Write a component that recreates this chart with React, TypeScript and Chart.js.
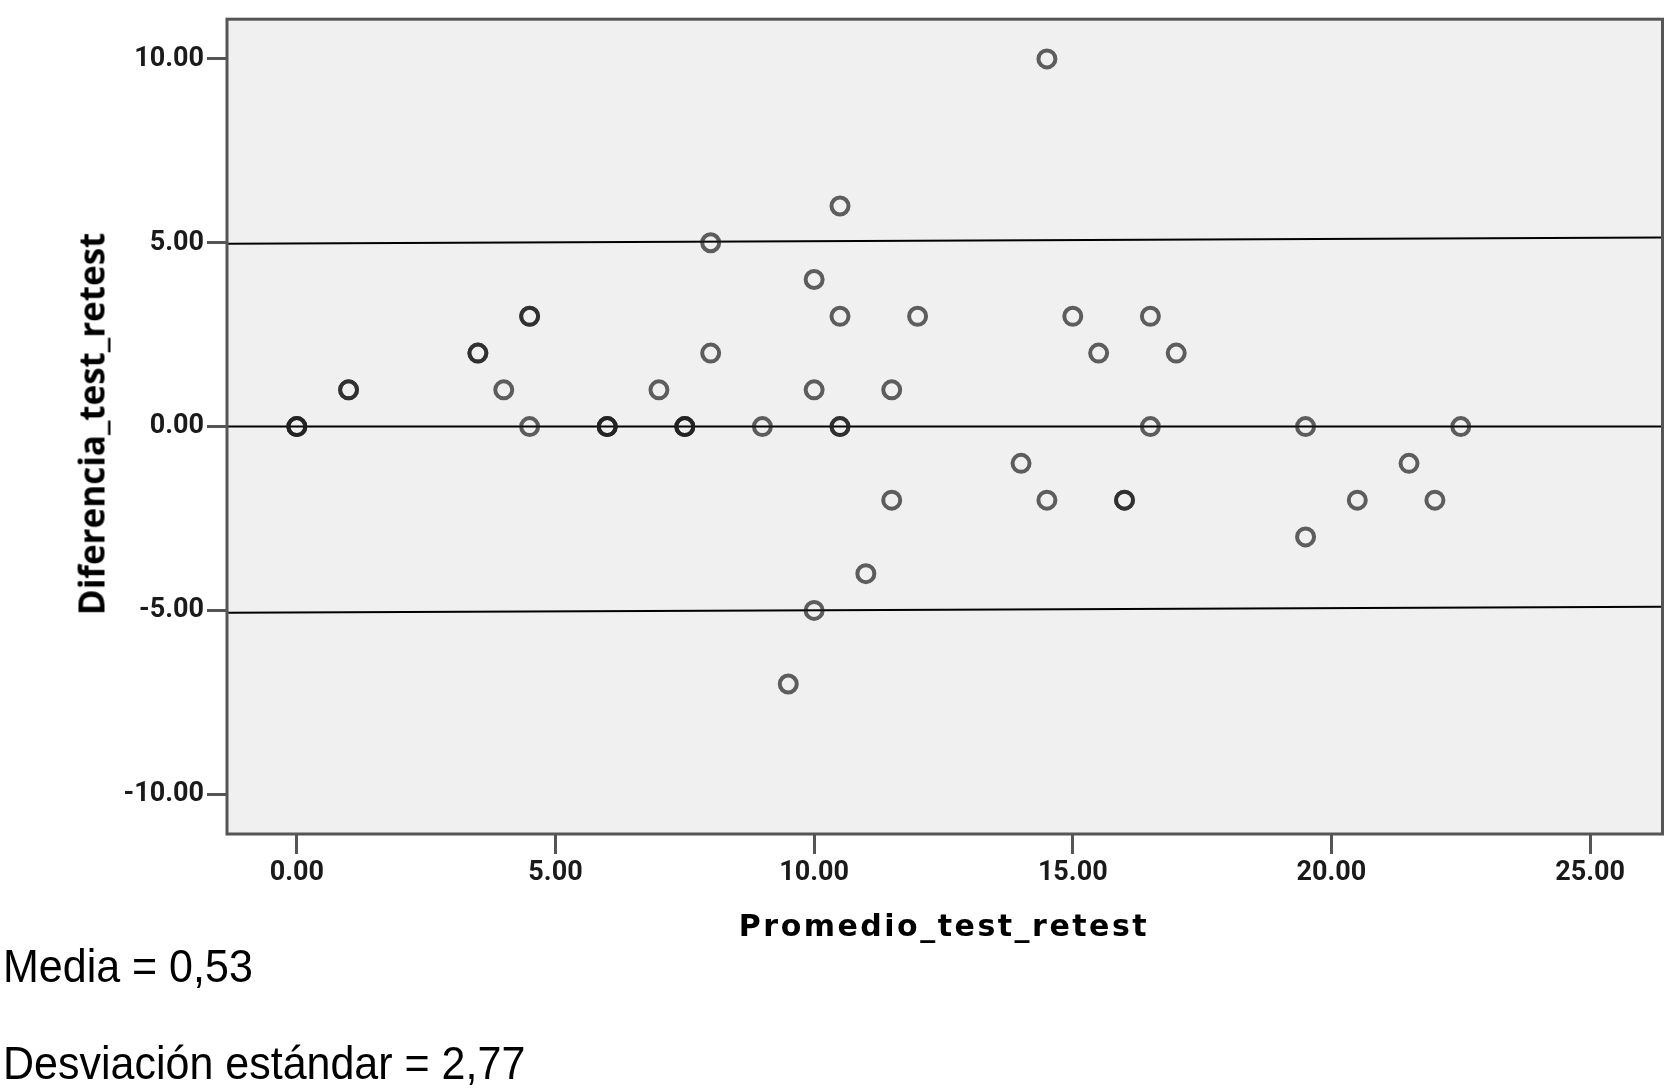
import React, { useEffect, useRef } from "react";
import { Chart, registerables } from "chart.js";

Chart.register(...registerables);

// Bland-Altman style data: promedio (x) and diferencia (y)
const promedio = [0, 0, 0, 1, 1, 3.5, 3.5, 4, 4.5, 4.5, 4.5, 6, 6, 6, 7, 7.5, 7.5, 7.5, 8, 8, 9, 9.5, 10, 10, 10, 10.5, 10.5, 10.5, 10.5, 11, 11.5, 11.5, 12, 14, 14.5, 14.5, 15, 15.5, 16, 16, 16.5, 16.5, 17, 19.5, 19.5, 20.5, 21.5, 22, 22.5];
const diferencia = [0, 0, 0, 1, 1, 2, 2, 1, 3, 3, 0, 0, 0, 0, 1, 0, 0, 0, 5, 2, 0, -7, 4, 1, -5, 6, 3, 0, 0, -4, 1, -2, 3, -1, 10, -2, 3, 2, -2, -2, 3, 0, 2, 0, -3, -2, -1, -2, 0];

// reference lines (as drawn in the figure)
const lineX = [-1.35, 26.4];
const upperLineY = [4.97, 5.14];
const meanLineY = [0, 0];
const lowerLineY = [-5.06, -4.9];

const xTicks = [0, 5, 10, 15, 20, 25];
const yTicks = [-10, -5, 0, 5, 10];
const xRange = [-1.35, 26.4];
const yRange = [-11.08, 11.08];

const xTitle = "Promedio_test_retest";
const yTitle = "Diferencia_test_retest";
const statLines = ["Media = 0,53", "Desviación estándar = 2,77"];

const framePlugin = {
  id: "frame",
  beforeDatasetsDraw(chart: any) {
    const { ctx, chartArea: a } = chart;
    ctx.save();
    ctx.fillStyle = "#f0f0f0";
    ctx.fillRect(a.left, a.top, a.right - a.left, a.bottom - a.top);
    ctx.restore();
  },
  afterDatasetsDraw(chart: any) {
    const { ctx, chartArea: a } = chart;
    ctx.save();
    ctx.strokeStyle = "#555555";
    ctx.lineWidth = 3;
    ctx.strokeRect(a.left, a.top, a.right - a.left, a.bottom - a.top);
    ctx.restore();
  },
};

function makeLine(ys: number[]) {
  return {
    type: "line" as const,
    data: lineX.map((x, i) => ({ x, y: ys[i] })),
    borderColor: "#000000",
    borderWidth: 2,
    pointRadius: 0,
    fill: false,
    order: 2,
  };
}

export default function App() {
  const ref = useRef<HTMLCanvasElement>(null);
  useEffect(() => {
    if (!ref.current) return;
    const tickFont = { family: "Roboto", size: 27, weight: "bold" as const };
    const chart = new Chart(ref.current, {
      type: "scatter",
      data: {
        datasets: [
          makeLine(upperLineY),
          makeLine(meanLineY),
          makeLine(lowerLineY),
          {
            type: "scatter",
            data: promedio.map((x, i) => ({ x, y: diferencia[i] })),
            pointStyle: "circle",
            pointRadius: 8.5,
            pointBorderWidth: 4,
            pointBackgroundColor: "rgba(0,0,0,0)",
            pointBorderColor: "rgba(30,30,30,0.7)",
            order: 1,
          } as any,
        ],
      },
      options: {
        animation: false,
        responsive: false,
        devicePixelRatio: 1,
        layout: { padding: { left: 0, right: 10, top: 13, bottom: 196 } },
        plugins: { legend: { display: false }, tooltip: { enabled: false } },
        scales: {
          x: {
            type: "linear",
            min: xRange[0],
            max: xRange[1],
            afterFit: (s: any) => { s.height = 60; },
            afterBuildTicks: (s: any) => { s.ticks = xTicks.map((v) => ({ value: v })); },
            ticks: { font: tickFont, color: "#1a1a1a", padding: 3, maxRotation: 0, callback: (v: any) => Number(v).toFixed(2) },
            grid: { display: true, drawOnChartArea: false, drawTicks: true, tickLength: 20, tickWidth: 3, tickColor: "#555555" },
            border: { display: false },
          },
          y: {
            type: "linear",
            min: yRange[0],
            max: yRange[1],
            afterFit: (s: any) => { s.width = 227; },
            afterBuildTicks: (s: any) => { s.ticks = yTicks.map((v) => ({ value: v })); },
            ticks: { font: tickFont, color: "#1a1a1a", padding: 3, callback: (v: any) => Number(v).toFixed(2) },
            grid: { display: true, drawOnChartArea: false, drawTicks: true, tickLength: 20, tickWidth: 3, tickColor: "#555555" },
            border: { display: false },
          },
        },
      },
      plugins: [framePlugin],
    });
    return () => chart.destroy();
  }, []);

  return (
    <div style={{ position: "absolute", left: 0, top: 0, width: 1675, height: 1090, background: "#fff", overflow: "hidden" }}>
      <canvas ref={ref} width={1675} height={1090} style={{ position: "absolute", left: 0, top: 0 }} />
      <div style={{ position: "absolute", left: 944, top: 911, transform: "translateX(-50%)", whiteSpace: "nowrap", fontFamily: "'DejaVu Sans'", fontWeight: 700, fontSize: 30, lineHeight: "30px", letterSpacing: "2.5px", color: "#000" }}>
        {xTitle}
      </div>
      <div style={{ position: "absolute", left: 91, top: 424, transform: "translate(-50%,-50%) rotate(-90deg)", whiteSpace: "nowrap", fontFamily: "'Open Sans'", fontWeight: 700, fontSize: 35, lineHeight: "35px", color: "#000" }}>
        {yTitle}
      </div>
      {statLines.map((t, i) => (
        <div key={i} style={{ position: "absolute", left: 3, top: 943 + i * 97, whiteSpace: "nowrap", fontFamily: "'Liberation Sans', Arial", fontSize: 43, lineHeight: "43px", color: "#000", transform: "scaleY(1.07)", transformOrigin: "0 0" }}>
          {t}
        </div>
      ))}
    </div>
  );
}
